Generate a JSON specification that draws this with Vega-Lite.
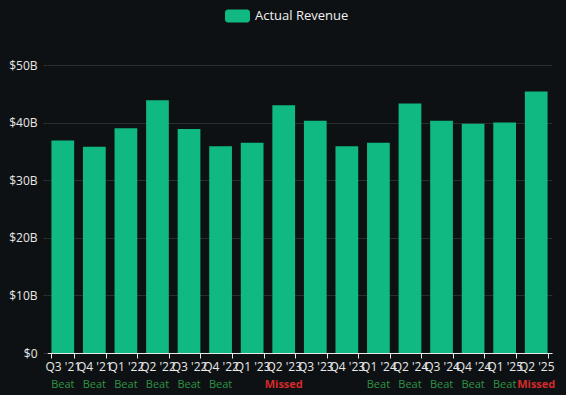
{
  "$schema": "https://vega.github.io/schema/vega-lite/v6.json",
  "width": 505,
  "height": 288,
  "autosize": {"type": "none"},
  "padding": {"left": 47, "top": 65, "right": 14, "bottom": 42},
  "background": "#0e1113",
  "config": {
    "view": {"stroke": null},
    "font": "Open Sans",
    "axis": {"labelFont": "Open Sans", "labelColor": "#e8e8e8", "labelFontSize": 12}
  },
  "data": {
    "values": [
      {"quarter": "Q3 '21", "revenue": 36.9, "status": "Beat"},
      {"quarter": "Q4 '21", "revenue": 35.8, "status": "Beat"},
      {"quarter": "Q1 '22", "revenue": 39.0, "status": "Beat"},
      {"quarter": "Q2 '22", "revenue": 43.9, "status": "Beat"},
      {"quarter": "Q3 '22", "revenue": 38.9, "status": "Beat"},
      {"quarter": "Q4 '22", "revenue": 35.9, "status": "Beat"},
      {"quarter": "Q1 '23", "revenue": 36.5, "status": ""},
      {"quarter": "Q2 '23", "revenue": 43.0, "status": "Missed"},
      {"quarter": "Q3 '23", "revenue": 40.3, "status": ""},
      {"quarter": "Q4 '23", "revenue": 35.9, "status": ""},
      {"quarter": "Q1 '24", "revenue": 36.5, "status": "Beat"},
      {"quarter": "Q2 '24", "revenue": 43.3, "status": "Beat"},
      {"quarter": "Q3 '24", "revenue": 40.3, "status": "Beat"},
      {"quarter": "Q4 '24", "revenue": 39.8, "status": "Beat"},
      {"quarter": "Q1 '25", "revenue": 40.0, "status": "Beat"},
      {"quarter": "Q2 '25", "revenue": 45.4, "status": "Missed"}
    ]
  },
  "encoding": {
    "x": {
      "field": "quarter",
      "type": "nominal",
      "sort": null,
      "scale": {"paddingInner": 0.28, "paddingOuter": 0.14},
      "axis": {
        "title": null,
        "labelAngle": 0,
        "labelOverlap": false,
        "labelPadding": 3,
        "tickBand": "extent",
        "tickSize": 5,
        "tickColor": "#e8e8e8",
        "domainColor": "#e8e8e8",
        "grid": false
      }
    }
  },
  "layer": [
    {
      "mark": {"type": "bar"},
      "encoding": {
        "y": {
          "field": "revenue",
          "type": "quantitative",
          "scale": {"domain": [0, 50], "nice": false},
          "axis": {
            "title": null,
            "values": [0, 10, 20, 30, 40, 50],
            "labelExpr": "datum.value == 0 ? '$0' : '$' + datum.value + 'B'",
            "domain": false,
            "tickSize": 4,
            "tickColor": "#2a2e31",
            "gridColor": "#2a2e31",
            "labelPadding": 6
          }
        },
        "color": {
          "datum": "Actual Revenue",
          "type": "nominal",
          "scale": {"range": ["#10b981"]},
          "legend": {
            "title": null,
            "orient": "none",
            "legendX": 178,
            "legendY": -61.5,
            "padding": 0,
            "symbolType": "M-0.76,-0.52H0.76A0.24,0.24,0,0,1,1,-0.28V0.28A0.24,0.24,0,0,1,0.76,0.52H-0.76A0.24,0.24,0,0,1,-1,0.28V-0.28A0.24,0.24,0,0,1,-0.76,-0.52Z",
            "symbolSize": 625,
            "symbolStrokeWidth": 0,
            "symbolOpacity": 1,
            "labelOffset": 5,
            "labelFontSize": 13,
            "labelFont": "Open Sans",
            "labelColor": "#f0f0f0"
          }
        }
      }
    },
    {
      "transform": [{"filter": "datum.status == 'Beat'"}],
      "mark": {"type": "text", "dy": 32, "baseline": "middle", "fontSize": 11, "fontWeight": "normal", "font": "Open Sans", "color": "#2e9448"},
      "encoding": {
        "y": {"datum": 0, "type": "quantitative"},
        "text": {"field": "status"}
      }
    },
    {
      "transform": [{"filter": "datum.status == 'Missed'"}],
      "mark": {"type": "text", "dy": 32, "baseline": "middle", "fontSize": 11, "fontWeight": "bold", "font": "Open Sans", "color": "#d42a2a"},
      "encoding": {
        "y": {"datum": 0, "type": "quantitative"},
        "text": {"field": "status"}
      }
    }
  ]
}
